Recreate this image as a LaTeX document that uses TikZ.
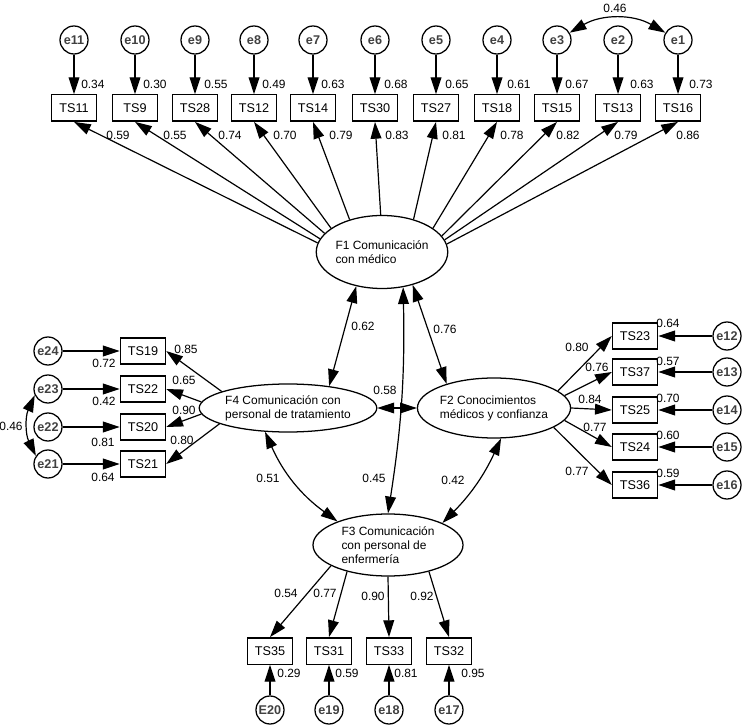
\documentclass[tikz,border=0pt]{standalone}
\usepackage{fontspec}
\setmainfont{Liberation Sans}
\usetikzlibrary{arrows.meta,shapes.geometric}

\tikzset{
  obs/.style={draw, line width=1pt, minimum width=11.25mm, minimum height=6.6mm, inner sep=0pt, font=\fontsize{9}{10}\selectfont},
  err/.style={draw, circle, line width=0.9pt, minimum size=7mm, inner sep=0pt, text=black!75, font=\fontsize{9}{10}\selectfont\bfseries},
  latent/.style={draw, ellipse, line width=0.9pt, inner sep=0pt, align=left, font=\fontsize{8.5}{10}\selectfont},
  val/.style={inner sep=0pt, font=\fontsize{8.5}{10}\selectfont},
  arr/.style={line width=0.85pt, -{Triangle[length=4.2mm,width=2.7mm]}},
  cov/.style={line width=0.85pt, {Triangle[length=4.2mm,width=2.7mm]}-{Triangle[length=4.2mm,width=2.7mm]}}
}

\begin{document}
\begin{tikzpicture}[x=0.25mm,y=0.25mm]
\useasboundingbox (0,0) rectangle (744,725);

\node[latent, minimum width=28.5mm, minimum height=18.25mm] (f1) at (382,473) {F1 Comunicación\\con médico};
\node[latent, minimum width=35mm, minimum height=12mm] (f4) at (288,317) {F4 Comunicación con\\personal de tratamiento};
\node[latent, minimum width=36.25mm, minimum height=15mm] (f2) at (494,317) {F2 Conocimientos\\médicos y confianza};
\node[latent, minimum width=37.5mm, minimum height=15.5mm] (f3) at (388,180) {F3 Comunicación\\con personal de\\enfermería};

\node[obs] (ts11) at (74,617) {TS11};
\node[obs] (ts9) at (135,617) {TS9};
\node[obs] (ts28) at (195,617) {TS28};
\node[obs] (ts12) at (254,617) {TS12};
\node[obs] (ts14) at (313,617) {TS14};
\node[obs] (ts30) at (375,617) {TS30};
\node[obs] (ts27) at (436,617) {TS27};
\node[obs] (ts18) at (497,617) {TS18};
\node[obs] (ts15) at (557,617) {TS15};
\node[obs] (ts13) at (618,617) {TS13};
\node[obs] (ts16) at (678,617) {TS16};

\node[err] (e11) at (74,685) {e11};
\node[err] (e10) at (135,685) {e10};
\node[err] (e9) at (195,685) {e9};
\node[err] (e8) at (254,685) {e8};
\node[err] (e7) at (313,685) {e7};
\node[err] (e6) at (375,685) {e6};
\node[err] (e5) at (436,685) {e5};
\node[err] (e4) at (497,685) {e4};
\node[err] (e3) at (557,685) {e3};
\node[err] (e2) at (618,685) {e2};
\node[err] (e1) at (678,685) {e1};

\draw[arr] (e11) -- (ts11);
\draw[arr] (e10) -- (ts9);
\draw[arr] (e9) -- (ts28);
\draw[arr] (e8) -- (ts12);
\draw[arr] (e7) -- (ts14);
\draw[arr] (e6) -- (ts30);
\draw[arr] (e5) -- (ts27);
\draw[arr] (e4) -- (ts18);
\draw[arr] (e3) -- (ts15);
\draw[arr] (e2) -- (ts13);
\draw[arr] (e1) -- (ts16);
\draw[cov] (e3.30) to[bend left=30] (e1.150);

\draw[arr] (f1.172) -- (ts11.south);
\draw[arr] (f1.168) -- (ts9.south);
\draw[arr] (f1.162) -- (ts28.south);
\draw[arr] (f1.155) -- (ts12.south);
\draw[arr] (f1.135) -- (ts14.south);
\draw[arr] (f1.92) -- (ts30.south);
\draw[arr] (f1.46) -- (ts27.south);
\draw[arr] (f1.25) -- (ts18.south);
\draw[arr] (f1.15) -- (ts15.south);
\draw[arr] (f1.11) -- (ts13.south);
\draw[arr] (f1.7) -- (ts16.south);

\node[val, anchor=west] (r11) at (81,641) {0.34};
\node[val, anchor=west] (r10) at (143,641) {0.30};
\node[val, anchor=west] (r9) at (204,641) {0.55};
\node[val, anchor=west] (r8) at (262,641) {0.49};
\node[val, anchor=west] (r7) at (321,641) {0.63};
\node[val, anchor=west] (r6) at (384,641) {0.68};
\node[val, anchor=west] (r5) at (445,641) {0.65};
\node[val, anchor=west] (r4) at (507,641) {0.61};
\node[val, anchor=west] (r3) at (565,641) {0.67};
\node[val, anchor=west] (r2) at (630,641) {0.63};
\node[val, anchor=west] (r1) at (689,641) {0.73};
\node[val] (c31) at (615,717) {0.46};

\node[val] (w11) at (118,590) {0.59};
\node[val] (w9) at (175,590) {0.55};
\node[val] (w28) at (230,590) {0.74};
\node[val] (w12) at (285,590) {0.70};
\node[val] (w14) at (341,590) {0.79};
\node[val] (w30) at (397,590) {0.83};
\node[val] (w27) at (454,590) {0.81};
\node[val] (w18) at (512,590) {0.78};
\node[val] (w15) at (568,590) {0.82};
\node[val] (w13) at (626,590) {0.79};
\node[val] (w16) at (688,590) {0.86};

\node[obs] (ts19) at (143,374) {TS19};
\node[obs] (ts22) at (143,336) {TS22};
\node[obs] (ts20) at (143,298) {TS20};
\node[obs] (ts21) at (143,261) {TS21};
\node[err] (e24) at (48,374) {e24};
\node[err] (e23) at (48,336) {e23};
\node[err] (e22) at (48,298) {e22};
\node[err] (e21) at (48,261) {e21};

\draw[arr] (e24) -- (ts19);
\draw[arr] (e23) -- (ts22);
\draw[arr] (e22) -- (ts20);
\draw[arr] (e21) -- (ts21);
\draw[cov] (e23.205) to[bend right=25] (e21.146);
\draw[arr] (f4.166) -- (ts19.east);
\draw[arr] (f4.176) -- (ts22.east);
\draw[arr] (f4.184) -- (ts20.east);
\draw[arr] (f4.193) -- (ts21.east);

\node[val] (r24) at (104,362) {0.72};
\node[val] (r23) at (104,324) {0.42};
\node[val] (r22) at (103,283) {0.81};
\node[val] (r21) at (103,248) {0.64};
\node[val] (c2321) at (11,299) {0.46};
\node[val] (w19) at (186,376) {0.85};
\node[val] (w22) at (184,345) {0.65};
\node[val] (w20) at (184,315) {0.90};
\node[val] (w21) at (182,285) {0.80};

\node[obs] (ts23) at (635,389) {TS23};
\node[obs] (ts37) at (635,353) {TS37};
\node[obs] (ts25) at (635,315) {TS25};
\node[obs] (ts24) at (635,278) {TS24};
\node[obs] (ts36) at (635,240) {TS36};
\node[err] (e12) at (727,389) {e12};
\node[err] (e13) at (727,353) {e13};
\node[err] (e14) at (727,315) {e14};
\node[err] (e15) at (727,278) {e15};
\node[err] (e16) at (727,240) {e16};

\draw[arr] (e12) -- (ts23);
\draw[arr] (e13) -- (ts37);
\draw[arr] (e14) -- (ts25);
\draw[arr] (e15) -- (ts24);
\draw[arr] (e16) -- (ts36);
\draw[arr] (f2.15) -- (ts23.west);
\draw[arr] (f2.10) -- (ts37.west);
\draw[arr] (f2.0) -- (ts25.west);
\draw[arr] (f2.350) -- (ts24.west);
\draw[arr] (f2.342) -- (ts36.west);

\node[val] (r12) at (668,402) {0.64};
\node[val] (r13) at (668,364) {0.57};
\node[val] (r14) at (668,327) {0.70};
\node[val] (r15) at (668,290) {0.60};
\node[val] (r16) at (668,252) {0.59};
\node[val] (w23) at (577,378) {0.80};
\node[val] (w37) at (597,358) {0.76};
\node[val] (w25) at (590,326) {0.84};
\node[val] (w24) at (595,298) {0.77};
\node[val] (w36) at (577,254) {0.77};

\node[obs] (ts35) at (270,74) {TS35};
\node[obs] (ts31) at (329,74) {TS31};
\node[obs] (ts33) at (389,74) {TS33};
\node[obs] (ts32) at (449,74) {TS32};
\node[err] (e20) at (270,15) {E20};
\node[err] (e19) at (329,15) {e19};
\node[err] (e18) at (389,15) {e18};
\node[err] (e17) at (449,15) {e17};

\draw[arr] (e20) -- (ts35);
\draw[arr] (e19) -- (ts31);
\draw[arr] (e18) -- (ts33);
\draw[arr] (e17) -- (ts32);
\draw[arr] (f3.200) -- (ts35.north);
\draw[arr] (f3.213) -- (ts31.north);
\draw[arr] (f3.270) -- (ts33.north);
\draw[arr] (f3.327) -- (ts32.north);

\node[val] (r20) at (289,52) {0.29};
\node[val] (r19) at (347,52) {0.59};
\node[val] (r18) at (406,52) {0.81};
\node[val] (r17) at (473,52) {0.95};
\node[val] (w35) at (286,132) {0.54};
\node[val] (w31) at (325,132) {0.77};
\node[val] (w33) at (373,129) {0.90};
\node[val] (w32) at (422,129) {0.92};

\draw[cov] (f1.233) -- (f4.28);
\draw[cov] (f1.313) -- (f2.153);
\draw[cov] (f1.301) to[bend left=5] (f3.90);
\draw[cov] (f4.east) -- (f2.west);
\draw[cov] (f4.226) to[bend right=15] (f3.155);
\draw[cov] (f2.283) to[bend left=10] (f3.22);

\node[val] (c14) at (363,399) {0.62};
\node[val] (c12) at (445,396) {0.76};
\node[val] (c13) at (374,247) {0.45};
\node[val] (c42) at (385,335) {0.58};
\node[val] (c43) at (268,247) {0.51};
\node[val] (c23) at (453,245) {0.42};
\end{tikzpicture}
\end{document}
